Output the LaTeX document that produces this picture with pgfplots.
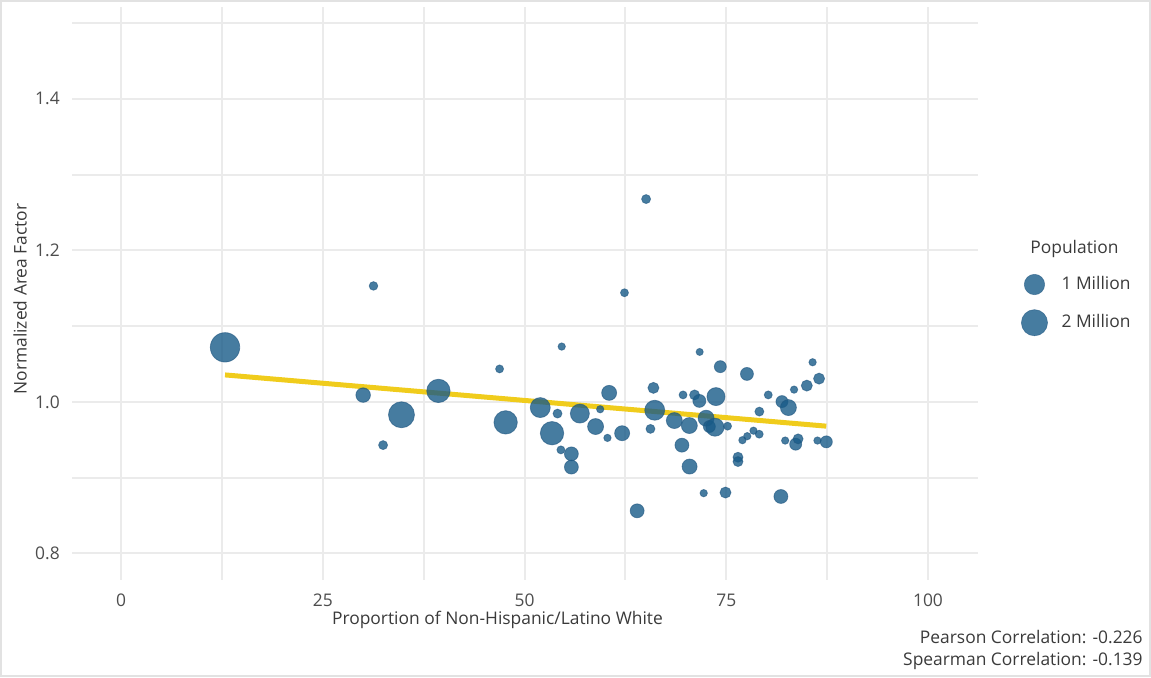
\documentclass[border=0pt]{standalone}
\usepackage{pgfplots}
\pgfplotsset{compat=1.18}
\usepackage{pgfplotstable}
\usepackage{fontspec}
\setmainfont{Open Sans}
\definecolor{ptfill}{HTML}{185B88}
\definecolor{ptedge}{HTML}{1F5680}
\definecolor{fitline}{HTML}{F0CC1C}
\definecolor{gridc}{HTML}{EBEBEB}
\definecolor{tickc}{HTML}{4D4D4D}
\definecolor{titlec}{HTML}{3A3A3A}
\definecolor{framec}{HTML}{E2E2E2}
\newcommand{\chartfont}{\fontsize{8.7}{10.4}\selectfont}
% x = proportion non-Hispanic white, y = normalized area factor, pop = population (millions)
\pgfplotstableread{
x y pop
12.87 1.0720 2.70
31.27 1.1530 0.025
29.99 1.0090 0.34
34.74 0.9830 1.96
32.46 0.9430 0.034
39.32 1.0145 1.47
46.90 1.0435 0.013
54.60 1.0730 0.005
47.65 0.9730 1.47
51.94 0.9925 0.94
54.08 0.9846 0.034
53.40 0.9587 1.47
54.50 0.9367 0.013
55.80 0.9314 0.29
55.80 0.9140 0.29
56.85 0.9846 0.81
59.37 0.9903 0.005
58.80 0.9675 0.47
60.48 1.0119 0.38
60.27 0.9525 0.005
62.09 0.9587 0.38
65.97 1.0185 0.11
65.60 0.9644 0.034
66.13 0.9890 0.94
68.56 0.9754 0.47
63.95 0.8563 0.29
69.50 0.9429 0.29
71.70 1.0659 0.003
74.26 1.0465 0.16
77.56 1.0369 0.22
69.64 1.0092 0.013
71.07 1.0092 0.066
71.66 1.0013 0.22
73.72 1.0070 0.69
70.42 0.9688 0.47
72.50 0.9785 0.47
72.90 0.9675 0.16
73.60 0.9666 0.69
75.16 0.9680 0.013
70.45 0.9147 0.38
72.20 0.8796 0.005
74.90 0.8804 0.11
81.77 0.8752 0.29
76.45 0.9270 0.066
76.45 0.9213 0.066
77.00 0.9495 0.005
77.60 0.9548 0.005
78.37 0.9620 0.005
79.08 0.9574 0.013
79.10 0.9872 0.034
80.20 1.0092 0.013
81.90 1.0004 0.16
82.70 0.9925 0.47
83.40 1.0162 0.005
84.98 1.0215 0.11
85.70 1.0523 0.005
86.50 1.0307 0.11
82.30 0.9490 0.005
83.60 0.9442 0.16
83.90 0.9512 0.066
86.30 0.9490 0.005
87.40 0.9473 0.16
65.06 1.2676 0.034
62.38 1.1440 0.013
}\metros
\begin{document}
\begin{tikzpicture}
\path[use as bounding box] (0,0) rectangle (575.5pt,-338.5pt);
\draw[framec, line width=1.2pt] (0.6pt,-0.6pt) rectangle (574.9pt,-337.9pt);
\begin{axis}[
  at={(36pt,-290pt)}, anchor=south west,
  scale only axis, width=453pt, height=286.5pt,
  xmin=-6.1, xmax=106.2, ymin=0.765, ymax=1.521,
  xtick={0,25,50,75,100}, minor xtick={12.5,37.5,62.5,87.5},
  ytick={0.8,1.0,1.2,1.4}, minor ytick={0.9,1.1,1.3,1.5},
  grid=both,
  major grid style={gridc, line width=1pt},
  minor grid style={gridc, line width=1pt},
  axis line style={draw=none},
  major tick length=0pt, minor tick length=0pt,
  tick style={draw=none},
  /pgf/number format/assume math mode=true,
  tick label style={font=\chartfont, text=tickc},
  yticklabel style={/pgf/number format/fixed, /pgf/number format/fixed zerofill, /pgf/number format/precision=1, xshift=-2.6pt},
  xticklabel style={yshift=-3.6pt},
  xlabel={Proportion of Non-Hispanic/Latino White},
  ylabel={Normalized Area Factor},
  label style={font=\chartfont, text=titlec},
  xlabel style={at={(axis description cs:0.4696,-0.0698)}, anchor=center},
  ylabel style={at={(axis description cs:-0.0574,0.4904)}, anchor=center, rotate=0},
  legend style={draw=none, fill=none, at={(axis description cs:1.0408,0.4815)}, anchor=west,
    font=\chartfont, text=titlec, row sep=6.5pt, column sep=5pt},
  legend cell align=left,
]
\addplot[scatter, only marks, mark=*, forget plot,
  scatter/use mapped color={draw=ptedge, fill=ptfill},
  fill opacity=0.8, draw opacity=0.6,
  visualization depends on={1.6+3.5*sqrt(\thisrow{pop}) \as \msz},
  scatter/@pre marker code/.append style={/tikz/mark size=\msz pt, /tikz/line width=0.3pt},
] table[x=x, y=y, meta=pop] {\metros};
\addplot[fitline, line width=2.5pt, forget plot] coordinates {(12.87,1.0356) (87.4,0.968)};
\addlegendimage{only marks, mark=*, mark size=5.1pt, mark options={fill=ptfill, draw=ptedge, fill opacity=0.8, draw opacity=0.6, line width=0.3pt}}
\addlegendentry{1 Million}
\addlegendimage{only marks, mark=*, mark size=6.55pt, mark options={fill=ptfill, draw=ptedge, fill opacity=0.8, draw opacity=0.6, line width=0.3pt}}
\addlegendentry{2 Million}
\end{axis}
\node[anchor=west, font=\chartfont, text=titlec, inner sep=0pt] at (515pt,-124.5pt) {Population};
\node[anchor=east, font=\chartfont, text=titlec, inner sep=0pt] at (571.5pt,-318.5pt) {Pearson Correlation: -0.226};
\node[anchor=east, font=\chartfont, text=titlec, inner sep=0pt] at (571.5pt,-330.5pt) {Spearman Correlation: -0.139};
\end{tikzpicture}
\end{document}
